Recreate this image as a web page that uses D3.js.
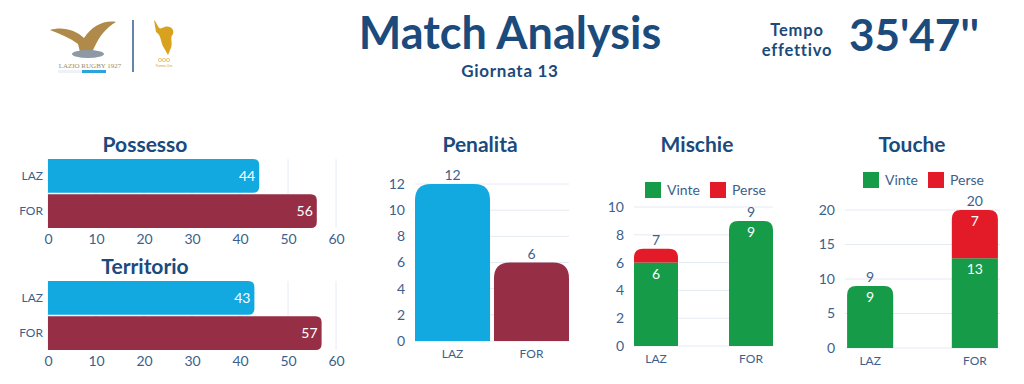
<!DOCTYPE html>
<html>
<head>
<meta charset="utf-8">
<script src="https://cdn.jsdelivr.net/npm/d3@7"></script>
<style>
  body { margin: 0; background: #fff; }
  text { font-family: Lato, "Open Sans", sans-serif; }
</style>
</head>
<body>
<div id="chart"></div>
<script>
// match data
const teams = ["LAZ", "FOR"];
const possesso = [44, 56];
const territorio = [43, 57];
const penalita = [12, 6];
const mischieVinte = [6, 9];
const mischiePerse = [1, 0];
const toucheVinte = [9, 13];
const touchePerse = [0, 7];
const legendLabels = ["Vinte", "Perse"];

const teamColor = ["#12A9E1", "#962F46"];
const stackColor = ["#169B48", "#E31B28"];
const navy = "#1B4A7C";
const tickColor = "#3D5F8C";
const gridColor = "#E4EAF2";

const svg = d3.select("#chart").append("svg")
    .attr("width", 1024)
    .attr("height", 384);

// rounded path helpers
function roundRight(x, y, w, h, r) {
    r = Math.min(r, w, h / 2);
    return `M${x},${y}H${x + w - r}Q${x + w},${y} ${x + w},${y + r}V${y + h - r}Q${x + w},${y + h} ${x + w - r},${y + h}H${x}Z`;
}
function roundTop(x, y, w, h, r) {
    r = Math.min(r, w / 2, h);
    return `M${x},${y + h}V${y + r}Q${x},${y} ${x + r},${y}H${x + w - r}Q${x + w},${y} ${x + w},${y + r}V${y + h}Z`;
}

// ---- header ----
const logo = svg.append("g");
logo.append("path")
    .attr("d", "M50,30 C62,26 76,30 84,38 C92,26 104,20 116,22 C106,28 100,36 96,44 L92,52 L80,52 L78,44 C70,38 60,34 50,30Z")
    .attr("fill", "#B08A4A");
logo.append("ellipse").attr("cx", 88).attr("cy", 54).attr("rx", 16).attr("ry", 4).attr("fill", "#8E99A6");
logo.append("text").attr("x", 90).attr("y", 68).attr("text-anchor", "middle")
    .style("font-family", "Liberation Serif").style("font-size", "7px").attr("fill", "#9C8A6A")
    .text("LAZIO RUGBY 1927");
logo.append("rect").attr("x", 58).attr("y", 70).attr("width", 24).attr("height", 3).attr("fill", "#EEF2F6");
logo.append("rect").attr("x", 82).attr("y", 70).attr("width", 24).attr("height", 3).attr("fill", "#2BA3DC");
logo.append("line").attr("x1", 133).attr("x2", 133).attr("y1", 20).attr("y2", 72)
    .attr("stroke", "#2F5C8E").attr("stroke-width", 1.5);
logo.append("path")
    .attr("d", "M154,20 C158,24 158,30 162,28 C168,24 175,28 173,34 C169,38 174,44 170,50 L168,55 L164,48 C160,42 162,36 156,32Z")
    .attr("fill", "#D9A21E");
[0, 1, 2].forEach(i => logo.append("circle").attr("cx", 160 + i * 4).attr("cy", 60).attr("r", 1.6)
    .attr("fill", "none").attr("stroke", "#D9A21E").attr("stroke-width", 0.6));
logo.append("text").attr("x", 164).attr("y", 67).attr("text-anchor", "middle")
    .style("font-size", "3px").attr("fill", "#D9A21E").text("Fiamme Oro");

svg.append("text").attr("x", 510).attr("y", 49).attr("text-anchor", "middle")
    .style("font-size", "45px").style("font-weight", "bold").attr("fill", navy)
    .text("Match Analysis");
svg.append("text").attr("x", 510).attr("y", 77).attr("text-anchor", "middle")
    .style("font-size", "17px").style("font-weight", "bold").style("letter-spacing", "0.7px")
    .attr("fill", navy).text("Giornata 13");

svg.append("text").attr("x", 797).attr("y", 36).attr("text-anchor", "middle")
    .style("font-size", "16.5px").style("font-weight", "bold").style("letter-spacing", "0.8px")
    .attr("fill", navy).text("Tempo");
svg.append("text").attr("x", 797).attr("y", 56).attr("text-anchor", "middle")
    .style("font-size", "16.5px").style("font-weight", "bold").style("letter-spacing", "0.8px")
    .attr("fill", navy).text("effettivo");

svg.append("text").attr("x", 849).attr("y", 51)
    .style("font-size", "44px").style("font-weight", "bold").attr("fill", navy)
    .text("35'47''");

// ---- horizontal bar charts ----
function hbar(title, values, top, titleY) {
    const x = d3.scaleLinear().domain([0, 60]).range([48, 336]);
    const y = d3.scaleBand().domain(teams).range([top, top + 69]).paddingInner(0.04);
    const g = svg.append("g");

    g.append("text").attr("x", 145).attr("y", titleY).attr("text-anchor", "middle")
        .style("font-size", "21px").style("font-weight", "bold").attr("fill", navy)
        .text(title);

    g.selectAll(".grid").data(x.ticks(6)).enter().append("line")
        .attr("x1", d => x(d)).attr("x2", d => x(d))
        .attr("y1", top).attr("y2", top + 69)
        .attr("stroke", gridColor);

    g.selectAll(".bar").data(values).enter().append("path")
        .attr("d", (d, i) => roundRight(x(0), y(teams[i]), x(d) - x(0), y.bandwidth(), 6))
        .attr("fill", (d, i) => teamColor[i]);

    g.selectAll(".val").data(values).enter().append("text")
        .attr("x", d => x(d) - 4).attr("y", (d, i) => y(teams[i]) + y.bandwidth() / 2)
        .attr("dy", "0.35em").attr("text-anchor", "end")
        .style("font-size", "14px").attr("fill", "#fff")
        .text(d => d);

    const ax = g.append("g").attr("transform", `translate(0,${top + 69})`)
        .call(d3.axisBottom(x).ticks(6).tickSize(0).tickPadding(6));
    ax.select(".domain").remove();
    ax.selectAll("text").style("font-size", "14px").style("font-family", "Lato").attr("fill", tickColor);

    const ay = g.append("g").attr("transform", "translate(48,0)")
        .call(d3.axisLeft(y).tickSize(0).tickPadding(5));
    ay.select(".domain").remove();
    ay.selectAll("text").style("font-size", "12px").style("font-family", "Lato").attr("fill", tickColor);
}
hbar("Possesso", possesso, 159, 152);
hbar("Territorio", territorio, 281, 274);

// ---- vertical bar charts ----
function vchart(opts) {
    const g = svg.append("g");
    const y = d3.scaleLinear().domain([0, opts.max]).range([opts.bottom, opts.top]);
    const x = d3.scaleBand().domain(teams).range([opts.left, opts.right])
        .paddingInner(opts.padIn).paddingOuter(opts.padOut);
    const ticks = d3.range(0, opts.max + 1, opts.step);

    g.append("text").attr("x", opts.cx).attr("y", 152).attr("text-anchor", "middle")
        .style("font-size", "21px").style("font-weight", "bold").attr("fill", navy)
        .text(opts.title);

    g.selectAll(".grid").data(ticks).enter().append("line")
        .attr("x1", opts.left).attr("x2", opts.right)
        .attr("y1", d => y(d)).attr("y2", d => y(d))
        .attr("stroke", gridColor);

    const ay = g.append("g").attr("transform", `translate(${opts.left - 8},0)`)
        .call(d3.axisLeft(y).tickValues(ticks).tickSize(0).tickPadding(2));
    ay.select(".domain").remove();
    ay.selectAll("text").style("font-size", "14px").style("font-family", "Lato").attr("fill", tickColor);

    const ax = g.append("g").attr("transform", `translate(0,${opts.bottom})`)
        .call(d3.axisBottom(x).tickSize(0).tickPadding(8));
    ax.select(".domain").remove();
    ax.selectAll("text").style("font-size", "12px").style("font-family", "Lato").attr("fill", tickColor);

    return { g, x, y };
}

// Penalità
(function () {
    const c = vchart({ title: "Penalità", cx: 480, top: 184, bottom: 341, left: 415, right: 569,
        padIn: 0.05, padOut: 0, max: 12, step: 2 });
    c.g.selectAll(".bar").data(penalita).enter().append("path")
        .attr("d", (d, i) => roundTop(c.x(teams[i]), c.y(d), c.x.bandwidth(), c.y(0) - c.y(d), 16))
        .attr("fill", (d, i) => teamColor[i]);
    c.g.selectAll(".val").data(penalita).enter().append("text")
        .attr("x", (d, i) => c.x(teams[i]) + c.x.bandwidth() / 2).attr("y", d => c.y(d) - 4)
        .attr("text-anchor", "middle").style("font-size", "14px").attr("fill", tickColor)
        .text(d => d);
})();

// stacked charts
function stacked(opts, vinte, perse) {
    const c = vchart(opts);
    const rows = teams.map((t, i) => ({ team: t, Vinte: vinte[i], Perse: perse[i] }));
    const series = d3.stack().keys(legendLabels)(rows);
    const bw = c.x.bandwidth();

    series.forEach((s, si) => {
        s.forEach((d, i) => {
            const val = d[1] - d[0];
            if (val <= 0) return;
            const isTop = series.slice(si + 1).every(n => n[i][1] - n[i][0] === 0);
            const x0 = c.x(teams[i]);
            const y0 = c.y(d[1]);
            const h = c.y(d[0]) - c.y(d[1]);
            c.g.append("path")
                .attr("d", isTop ? roundTop(x0, y0, bw, h, 9) : `M${x0},${y0}h${bw}v${h}h${-bw}Z`)
                .attr("fill", stackColor[si]);
            if (h > 18) {
                c.g.append("text").attr("x", x0 + bw / 2).attr("y", y0 + 16)
                    .attr("text-anchor", "middle").style("font-size", "14px").attr("fill", "#fff")
                    .text(val);
            }
        });
    });

    rows.forEach((r, i) => {
        const tot = r.Vinte + r.Perse;
        c.g.append("text").attr("x", c.x(teams[i]) + bw / 2).attr("y", c.y(tot) - 4)
            .attr("text-anchor", "middle").style("font-size", "14px").attr("fill", tickColor)
            .text(tot);
    });

    const leg = c.g.selectAll(".legend").data(legendLabels).enter().append("g")
        .attr("transform", (d, i) => `translate(${opts.legX + i * 65},${opts.legY})`);
    leg.append("rect").attr("width", 16).attr("height", 16).attr("fill", (d, i) => stackColor[i]);
    leg.append("text").attr("x", 22).attr("y", 8).attr("dy", "0.35em")
        .style("font-size", "14px").attr("fill", tickColor).text(d => d);
}

stacked({ title: "Mischie", cx: 697, top: 207, bottom: 346, left: 634, right: 773,
    padIn: 0.537, padOut: 0, max: 10, step: 2, legX: 645, legY: 182 }, mischieVinte, mischiePerse);
stacked({ title: "Touche", cx: 912, top: 210, bottom: 348, left: 845, right: 1000,
    padIn: 0.56, padOut: 0.02, max: 20, step: 5, legX: 863, legY: 172 }, toucheVinte, touchePerse);
</script>
</body>
</html>
